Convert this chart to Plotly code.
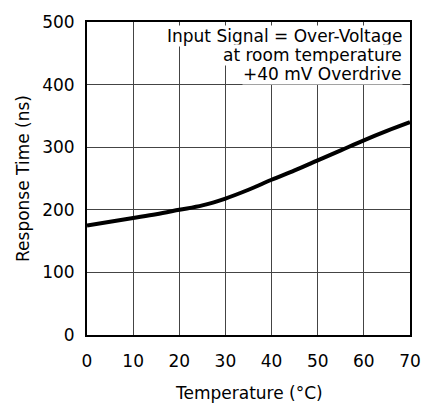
import plotly.graph_objects as go

temperature = [0, 5, 10, 15, 20, 25, 30, 35, 40, 45, 50, 55, 60, 65, 70]
response_ns = [175, 181, 187, 193, 200, 207, 218, 232, 248, 263, 279, 295, 311, 326, 340]
x_ticks = [0, 10, 20, 30, 40, 50, 60, 70]
y_ticks = [0, 100, 200, 300, 400, 500]
note_lines = ["Input Signal = Over-Voltage", "at room temperature", "+40 mV Overdrive"]

font_fam = "DejaVu Sans, Liberation Sans, sans-serif"

fig = go.Figure()
fig.add_trace(go.Scatter(x=temperature, y=response_ns, mode="lines",
                         line=dict(color="black", width=4, shape="spline"),
                         showlegend=False))

annots = []
for i, line in enumerate(note_lines):
    annots.append(dict(x=1, y=1, xref="paper", yref="paper", xanchor="right",
                       yanchor="middle", showarrow=False, xshift=-7,
                       yshift=-14 - 19 * i, bgcolor="white", borderpad=0,
                       text=line, font=dict(size=17, family=font_fam)))
annots.append(dict(x=0.5, y=0, xref="paper", yref="paper", xanchor="center",
                   yanchor="middle", showarrow=False, yshift=-58,
                   text="Temperature (°C)", font=dict(size=17, family=font_fam)))

fig.update_layout(
    width=427, height=408,
    margin=dict(l=87, r=17, t=12, b=73),
    paper_bgcolor="white", plot_bgcolor="white",
    font=dict(family=font_fam, size=17, color="black"),
    xaxis=dict(range=[0, 70], tickvals=x_ticks, showgrid=True, gridcolor="#444",
               gridwidth=1, showline=True, linecolor="black", linewidth=2, mirror=True,
               zeroline=False, ticks="outside", ticklen=10, tickcolor="rgba(0,0,0,0)",
               automargin=False),
    yaxis=dict(range=[0, 500], tickvals=y_ticks, showgrid=True, gridcolor="#444",
               gridwidth=1, showline=True, linecolor="black", linewidth=2, mirror=True,
               zeroline=False, ticks="outside", ticklen=7, tickcolor="rgba(0,0,0,0)",
               title=dict(text="Response Time (ns)", font=dict(size=17), standoff=8)),
    annotations=annots,
)

fig.write_html("out.html")
